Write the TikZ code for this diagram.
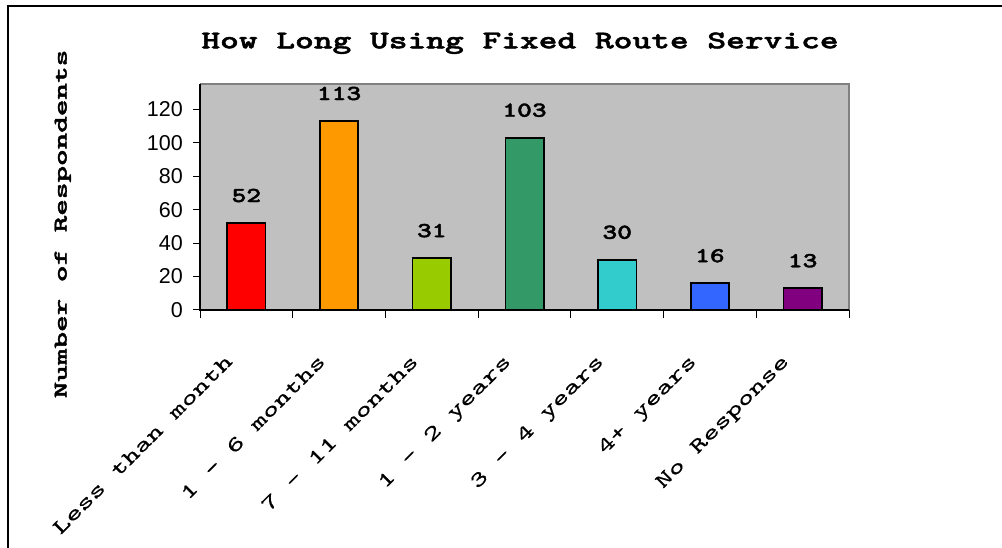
\documentclass[tikz,border=0pt]{standalone}
\usepackage{graphicx}
\usepackage{fontspec}
\newfontfamily\arialf{Liberation Sans}
\newfontfamily\courf{lmmono10-regular.otf}[FakeBold=0.3]
\newfontfamily\courbf{lmmonolt10-bold.otf}[FakeBold=1.6]
\definecolor{plotgray}{HTML}{C0C0C0}
\definecolor{framegray}{HTML}{808080}
\definecolor{c1}{HTML}{FF0000}
\definecolor{c2}{HTML}{FF9900}
\definecolor{c3}{HTML}{99CC00}
\definecolor{c4}{HTML}{339966}
\definecolor{c5}{HTML}{33CCCC}
\definecolor{c6}{HTML}{3366FF}
\definecolor{c7}{HTML}{800080}
% wide typewriter text
\newcommand{\widetext}[2]{\scalebox{#1}[1]{#2}}
\begin{document}
\begin{tikzpicture}[x=1pt,y=-1pt,
  bar/.style={draw=black,line width=1.6pt},
  valtext/.style={anchor=base,inner sep=0pt,font=\courbf\fontsize{21.3}{21.3}\selectfont},
  cattext/.style={anchor=north east,rotate=45,inner sep=0pt,font=\courf\fontsize{21}{21}\selectfont},
  ytext/.style={anchor=base east,inner sep=0pt,font=\arialf\fontsize{21.5}{21.5}\selectfont},
  tick/.style={line width=1pt,black}]
\useasboundingbox (0,0) rectangle (1002,548);
% outer frame (left and top edges)
\draw[line width=2pt] (8,548) -- (8,6) -- (1002,6);
% plot area
\fill[plotgray] (200,84) rectangle (849,310);
\draw[framegray,line width=1.5pt] (200,84) -- (849,84) -- (849,310);
% title
\node[anchor=base,inner sep=0pt,font=\courbf\fontsize{25.5}{25.5}\selectfont] (title) at (520,48.3) {\widetext{1.40}{How Long Using Fixed Route Service}};
% y-axis label
\node[anchor=base,rotate=90,inner sep=0pt,font=\courbf\fontsize{19.7}{19.7}\selectfont] (ylabel) at (66.7,224) {\widetext{1.605}{Number of Respondents}};
% y ticks and labels
\foreach \v in {0,20,...,120}{
  \pgfmathsetmacro{\yy}{310-\v*1.6725}
  \draw[tick] (193,\yy) -- (200,\yy);
  \node[ytext] (y\v) at (183,\yy+7.4) {\v};
}
% bars, values and category labels
\foreach \i/\val/\col/\lab in {0/52/c1/Less than month,1/113/c2/1 - 6 months,2/31/c3/7 - 11 months,3/103/c4/1 - 2 years,4/30/c5/3 - 4 years,5/16/c6/4+ years,6/13/c7/No Response}{
  \pgfmathsetmacro{\cx}{200+92.714*(\i+0.5)}
  \pgfmathsetmacro{\top}{310-\val*1.6725}
  \draw[bar,fill=\col] (\cx-19.2,310) rectangle (\cx+19.2,\top);
  \node[valtext] (v\i) at (\cx,\top-21) {\widetext{1.32}{\val}};
  \node[cattext] (cat\i) at (\cx-22,353) {\widetext{1.48}{\lab}};
}
% x ticks
\foreach \i in {0,...,7}{
  \pgfmathsetmacro{\tx}{200+92.714*\i}
  \draw[tick] (\tx,310) -- (\tx,318);
}
% axes
\draw[line width=1.5pt] (200,84) -- (200,310) -- (849,310);
\end{tikzpicture}
\end{document}
